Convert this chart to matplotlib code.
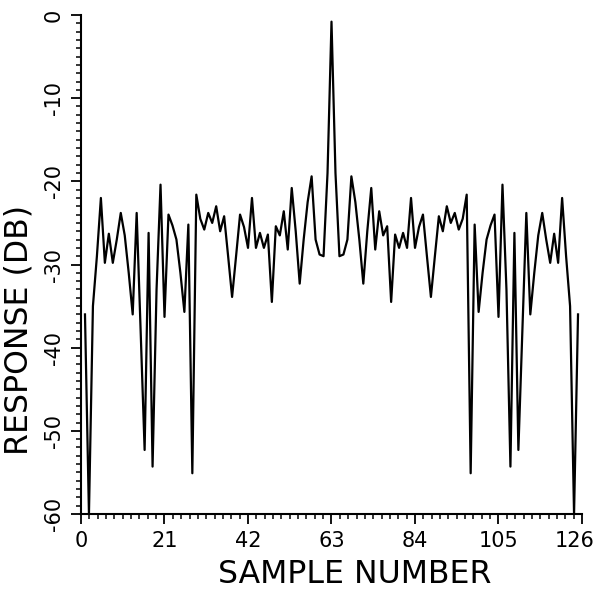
import numpy as np
import matplotlib
matplotlib.use("Agg")
import matplotlib.pyplot as plt
import matplotlib.transforms as mtransforms
from matplotlib.ticker import MultipleLocator

# Datos (muestras 1..125)
muestras = np.arange(1, 126)
respuesta_db = [
    -36.0, -60.0, -35.0, -29.0, -22.0, -29.8, -26.3, -29.8, -27.0, -23.8,
    -26.5, -31.0, -36.0, -23.8, -38.0, -52.3, -26.2, -54.3, -33.0, -20.4,
    -36.3, -24.0, -25.3, -27.0, -31.0, -35.7, -25.2, -55.1, -21.6, -24.5,
    -25.8, -23.8, -25.0, -23.0, -26.0, -24.2, -29.0, -33.9, -29.0, -24.0,
    -25.5, -28.0, -22.0, -28.0, -26.2, -28.0, -26.4, -34.5, -25.4, -26.5,
    -23.6, -28.2, -20.8, -26.0, -32.3, -27.0, -22.5, -19.4, -27.0, -28.8,
    -29.0, -19.0, -0.8,
    -19.0, -29.0, -28.8, -27.0, -19.4, -22.5, -27.0, -32.3, -26.0, -20.8,
    -28.2, -23.6, -26.5, -25.4, -34.5, -26.4, -28.0, -26.2, -28.0, -22.0,
    -28.0, -25.5, -24.0, -29.0, -33.9, -29.0, -24.2, -26.0, -23.0, -25.0,
    -23.8, -25.8, -24.5, -21.6, -55.1, -25.2, -35.7, -31.0, -27.0, -25.3,
    -24.0, -36.3, -20.4, -33.0, -54.3, -26.2, -52.3, -38.0, -23.8, -36.0,
    -31.0, -26.5, -23.8, -27.0, -29.8, -26.3, -29.8, -22.0, -29.0, -35.0,
    -60.0, -36.0,
]
ticks_x = [0, 21, 42, 63, 84, 105, 126]
ticks_y = [0, -10, -20, -30, -40, -50, -60]

plt.rcParams['axes.unicode_minus'] = False
plt.rcParams['font.family'] = 'DejaVu Sans'

fig = plt.figure(figsize=(5.99, 5.92), dpi=100)
ax = fig.add_axes([81 / 599, 78 / 592, 501 / 599, 499 / 592])

ax.plot(muestras, respuesta_db, color='black', linewidth=1.6)

ax.set_xlim(0, 126)
ax.set_ylim(-60, 0)
ax.set_xticks(ticks_x)
ax.set_yticks(ticks_y)
ax.xaxis.set_minor_locator(MultipleLocator(2.1))
ax.yaxis.set_minor_locator(MultipleLocator(1))

ax.spines['top'].set_visible(False)
ax.spines['right'].set_visible(False)
ax.spines['left'].set_linewidth(1.5)
ax.spines['bottom'].set_linewidth(1.5)

ax.tick_params(axis='both', which='major', direction='out', length=7.5, width=1.3,
               labelsize=15, colors='black')
ax.tick_params(axis='both', which='minor', direction='out', length=3.8, width=1.1)
ax.tick_params(axis='x', which='major', pad=5)
ax.tick_params(axis='y', which='major', pad=5, labelrotation=90)
for lbl in ax.get_yticklabels():
    lbl.set_va('center')

# la etiqueta 126 queda un poco a la izquierda, como en el original
ultima = ax.get_xticklabels()[-1]
ultima.set_transform(ultima.get_transform() +
                     mtransforms.ScaledTranslation(-5 / 72, 0, fig.dpi_scale_trans))

ax.set_xlabel('SAMPLE NUMBER', fontsize=22.7)
ax.set_ylabel('RESPONSE (DB)', fontsize=22.7)
ax.xaxis.set_label_coords(0.547, -0.09)
ax.yaxis.set_label_coords(-0.092, 0.369)

plt.savefig('out.png', dpi=100)
